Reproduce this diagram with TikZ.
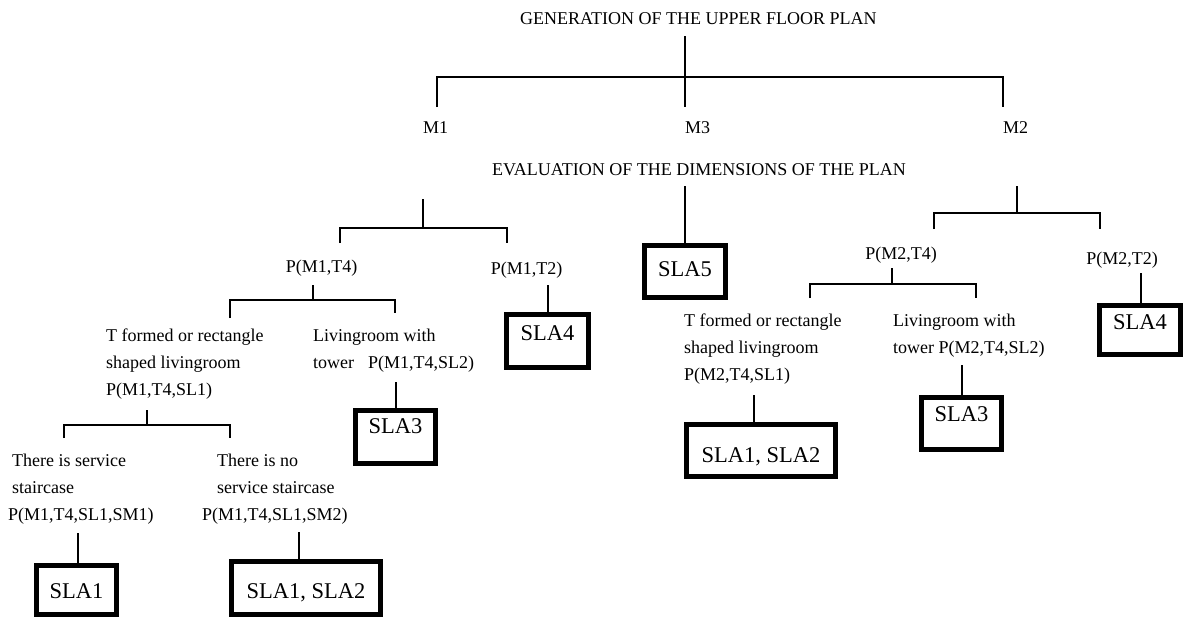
\documentclass[tikz,border=0pt]{standalone}
\usepackage{fontspec}
\setmainfont{Liberation Serif}
\begin{document}
\begin{tikzpicture}[x=1pt,y=-1pt,
  lbl/.style={font=\fontsize{18}{27}\selectfont, inner sep=0pt},
  multi/.style={lbl, align=left, anchor=north west},
  sla/.style={draw, line width=5pt, font=\fontsize{22.5}{27}\selectfont, inner sep=0pt, anchor=base},
  conn/.style={line width=2pt}]
\useasboundingbox (0,0) rectangle (1184,619);

% ---------- text labels ----------
\node[lbl, anchor=base west] (title) at (520,24.5) {GENERATION OF THE UPPER FLOOR PLAN};
\node[lbl, anchor=base west] (m1) at (423,133) {M1};
\node[lbl, anchor=base west] (m3) at (685,133) {M3};
\node[lbl, anchor=base west] (m2) at (1003,133) {M2};
\node[lbl, anchor=base west] (eval) at (492,175) {EVALUATION OF THE DIMENSIONS OF THE PLAN};

\node[lbl, anchor=base] (pm1t4) at (321.5,272) {P(M1,T4)};
\node[lbl, anchor=base] (pm1t2) at (526.5,274) {P(M1,T2)};
\node[lbl, anchor=base] (pm2t4) at (901,259) {P(M2,T4)};
\node[lbl, anchor=base] (pm2t2) at (1122,264) {P(M2,T2)};

\node[multi] (sl1l) at (106,328) {\rule{0pt}{13pt}T formed or rectangle\\shaped livingroom\\P(M1,T4,SL1)};
\node[multi] (sl2l) at (313,328) {\rule{0pt}{13pt}Livingroom with\\tower\hspace{14pt}P(M1,T4,SL2)};
\node[multi] (sm1) at (8,453) {\rule{0pt}{13pt}\hspace*{4pt}There is service\\\hspace*{4pt}staircase\\P(M1,T4,SL1,SM1)};
\node[multi] (sm2) at (202,453) {\rule{0pt}{13pt}\hspace*{15pt}There is no\\\hspace*{15pt}service staircase\\P(M1,T4,SL1,SM2)};
\node[multi] (sl1r) at (684,313) {\rule{0pt}{13pt}T formed or rectangle\\shaped livingroom\\P(M2,T4,SL1)};
\node[multi] (sl2r) at (893,313) {\rule{0pt}{13pt}Livingroom with\\tower P(M2,T4,SL2)};

% ---------- result boxes ----------
\node[sla, minimum width=80pt, text height=32.5pt, text depth=16.5pt] (sla1l) at (76.5,598) {SLA1};
\node[sla, minimum width=149pt, text height=36.5pt, text depth=16.5pt] (sla12l) at (306,598) {SLA1, SLA2};
\node[sla, minimum width=80pt, text height=23pt, text depth=30pt] (sla3l) at (395.5,433.5) {SLA3};
\node[sla, minimum width=82pt, text height=26pt, text depth=27pt] (sla4l) at (547.5,340.5) {SLA4};
\node[sla, minimum width=81pt, text height=30.5pt, text depth=21.5pt] (sla5) at (685,276) {SLA5};
\node[sla, minimum width=149pt, text height=37.5pt, text depth=14.5pt] (sla12r) at (761,462) {SLA1, SLA2};
\node[sla, minimum width=80pt, text height=24pt, text depth=28pt] (sla3r) at (961.5,421.5) {SLA3};
\node[sla, minimum width=81pt, text height=23.5pt, text depth=25.5pt] (sla4r) at (1140,329) {SLA4};

% ---------- junction coordinates ----------
\coordinate (g0) at (685,36);   \coordinate (g1) at (685,107);
\coordinate (ga) at (437,107);  \coordinate (gb) at (437,77);
\coordinate (gc) at (1003,77);  \coordinate (gd) at (1003,107);

\coordinate (a0) at (423,199);  \coordinate (a1) at (423,228);
\coordinate (aa) at (340,243);  \coordinate (ab) at (340,228);
\coordinate (ac) at (507,228);  \coordinate (ad) at (507,243);

\coordinate (e0) at (685,186);

\coordinate (b0) at (1017,186); \coordinate (b1) at (1017,213);
\coordinate (ba) at (934,229);  \coordinate (bb) at (934,213);
\coordinate (bc) at (1100,213); \coordinate (bd) at (1100,229);

\coordinate (c0) at (313,285);  \coordinate (c1) at (313,300);
\coordinate (ca) at (230,318);  \coordinate (cb) at (230,300);
\coordinate (cc) at (395,300);  \coordinate (cd) at (395,313);

\coordinate (d0) at (548,285);

\coordinate (f0) at (147,410);  \coordinate (f1) at (147,425);
\coordinate (fa) at (64,438);   \coordinate (fb) at (64,425);
\coordinate (fc) at (230,425);  \coordinate (fd) at (230,438);

\coordinate (h0) at (78,533);
\coordinate (i0) at (299,532);
\coordinate (j0) at (396,382);

\coordinate (k0) at (892,268);  \coordinate (k1) at (892,284);
\coordinate (ka) at (810,298);  \coordinate (kb) at (810,284);
\coordinate (kc) at (976,284);  \coordinate (kd) at (976,298);

\coordinate (l0) at (1141,273);
\coordinate (n0) at (754,395);
\coordinate (o0) at (962,365);

% ---------- connectors ----------
\draw[conn] (g0) -- (g1);
\draw[conn] (ga) -- (gb) -- (gc) -- (gd);

\draw[conn] (a0) -- (a1);
\draw[conn] (aa) -- (ab) -- (ac) -- (ad);

\draw[conn] (e0) -- (sla5.north);

\draw[conn] (b0) -- (b1);
\draw[conn] (ba) -- (bb) -- (bc) -- (bd);

\draw[conn] (c0) -- (c1);
\draw[conn] (ca) -- (cb) -- (cc) -- (cd);

\draw[conn] (d0) -- (d0 |- sla4l.north);

\draw[conn] (f0) -- (f1);
\draw[conn] (fa) -- (fb) -- (fc) -- (fd);

\draw[conn] (h0) -- (h0 |- sla1l.north);
\draw[conn] (i0) -- (i0 |- sla12l.north);
\draw[conn] (j0) -- (j0 |- sla3l.north);

\draw[conn] (k0) -- (k1);
\draw[conn] (ka) -- (kb) -- (kc) -- (kd);

\draw[conn] (l0) -- (l0 |- sla4r.north);
\draw[conn] (n0) -- (n0 |- sla12r.north);
\draw[conn] (o0) -- (o0 |- sla3r.north);
\end{tikzpicture}
\end{document}
